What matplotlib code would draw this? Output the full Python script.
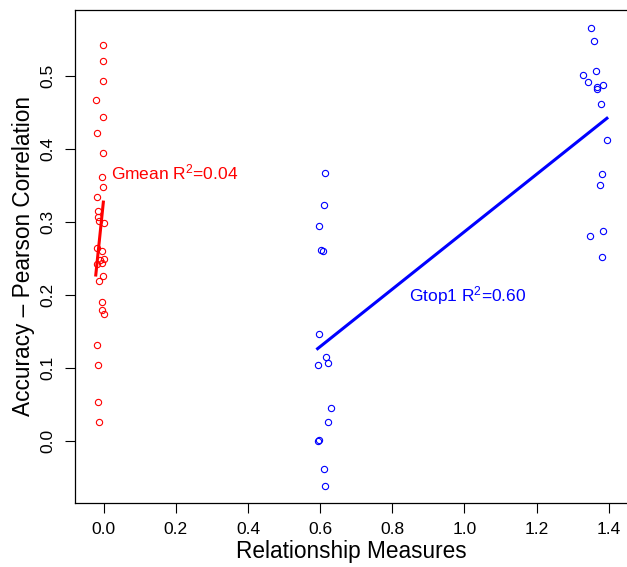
import numpy as np
import matplotlib
matplotlib.use("Agg")
import matplotlib.pyplot as plt

plt.rcParams['font.family'] = ['Liberation Sans', 'DejaVu Sans']
plt.rcParams['mathtext.default'] = 'regular'

# Gmean (red) points
gmean_x = [-0.001, -0.002, -0.002, -0.022, -0.002, -0.018, -0.003, -0.004, -0.002, -0.019,
           -0.016, -0.016, -0.012, 0.000, -0.018, -0.004, 0.000, -0.011, -0.004, -0.019,
           -0.002, -0.012, -0.004, -0.005, 0.000, -0.019, -0.017, -0.017, -0.013]
gmean_y = [0.542, 0.520, 0.493, 0.467, 0.444, 0.422, 0.394, 0.362, 0.348, 0.334,
           0.315, 0.307, 0.301, 0.299, 0.264, 0.260, 0.249, 0.248, 0.244, 0.242,
           0.225, 0.219, 0.190, 0.179, 0.174, 0.131, 0.103, 0.053, 0.026]
gmean_fit_x = [-0.022, -0.001]
gmean_fit_y = [0.227, 0.327]

# Gtop1 (blue) points
gtop_x = [0.613, 0.610, 0.597, 0.602, 0.607, 0.597, 0.616, 0.622, 0.594, 0.629,
          0.622, 0.595, 0.596, 0.612, 0.614,
          1.351, 1.358, 1.364, 1.329, 1.342, 1.384, 1.367, 1.368, 1.378, 1.395,
          1.381, 1.376, 1.383, 1.349, 1.381]
gtop_y = [0.367, 0.323, 0.294, 0.261, 0.260, 0.146, 0.115, 0.107, 0.103, 0.045,
          0.026, 0.000, 0.001, -0.039, -0.062,
          0.566, 0.548, 0.507, 0.501, 0.492, 0.488, 0.485, 0.482, 0.462, 0.412,
          0.366, 0.351, 0.287, 0.280, 0.252]
gtop_fit_x = [0.593, 1.395]
gtop_fit_y = [0.126, 0.442]

W, H = 627, 567
fig = plt.figure(figsize=(W / 100, H / 100), dpi=100)
ax = fig.add_axes([75 / W, (H - 503) / H, (628 - 75) / W, (503 - 10) / H])

ax.plot(gmean_x, gmean_y, 'o', mfc='none', mec='#ff0000', ms=4.5, mew=0.8)
ax.plot(gtop_x, gtop_y, 'o', mfc='none', mec='#0000ff', ms=4.5, mew=0.8)
ax.plot(gmean_fit_x, gmean_fit_y, color='#ff0000', lw=2.2)
ax.plot(gtop_fit_x, gtop_fit_y, color='#0000ff', lw=2.2)

ax.text(0.019, 0.367, 'Gmean R$^{2}$=0.04', color='#ff0000', fontsize=12.5,
        ha='left', va='center')
ax.text(0.846, 0.1995, 'Gtop1 R$^{2}$=0.60', color='#0000ff', fontsize=12.5,
        ha='left', va='center')

ax.set_xlim(-0.0796, 1.4535)
ax.set_ylim(-0.0857, 0.5905)
ax.set_xticks(np.arange(0, 1.41, 0.2))
ax.set_yticks(np.arange(0, 0.51, 0.1))
ax.set_xticklabels(['%.1f' % v for v in np.arange(0, 1.41, 0.2)])
ax.set_yticklabels(['%.1f' % v for v in np.arange(0, 0.51, 0.1)],
                   rotation=90, va='center')
ax.tick_params(direction='out', length=7, width=0.8, labelsize=12.5, pad=7)
for s in ax.spines.values():
    s.set_linewidth(0.9)

ax.set_xlabel('Relationship Measures', fontsize=16.3, labelpad=2)
ax.set_ylabel('Accuracy \u2013 Pearson Correlation', fontsize=16.3, labelpad=4)

fig.savefig('out.png', dpi=100)
